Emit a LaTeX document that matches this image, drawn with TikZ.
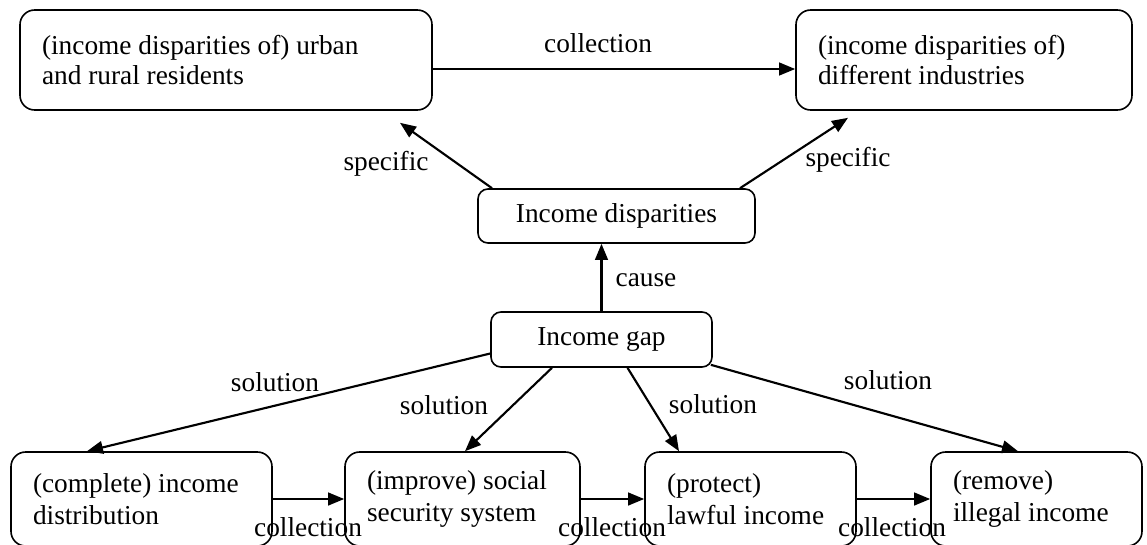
\documentclass[tikz,border=0pt]{standalone}
\usepackage{fontspec}
\setmainfont{Liberation Serif}
\usetikzlibrary{arrows.meta,calc}
\begin{document}
\begin{tikzpicture}[x=0.75pt,y=-0.75pt,
  every node/.style={font=\fontsize{20.5}{22.5}\selectfont},
  bigbox/.style={draw, line width=1.2pt, rounded corners=11pt, align=flush left, inner xsep=16.5pt, inner ysep=0pt},
  lowbox/.style={bigbox, font=\fontsize{20.5}{24}\selectfont},
  smallbox/.style={draw, line width=1.2pt, rounded corners=7.5pt, align=center, inner sep=0pt},
  conn/.style={line width=1.6pt, -{Triangle[length=12pt,width=9.5pt]}},
  lbl/.style={inner sep=0pt}
]
\useasboundingbox (0,0) rectangle (1147,544);
\clip (0,0) rectangle (1147,544);

% top boxes
\node[bigbox, text width=276pt, minimum height=75pt] (tl) at (226,60) {(income disparities of) urban\\and rural residents};
\node[bigbox, text width=219pt, minimum height=75pt] (tr) at (964,60) {(income disparities of)\\different industries};

% middle boxes
\node[smallbox, minimum width=207.75pt, minimum height=40.5pt] (ids) at (616.5,216) {Income disparities};
\node[smallbox, minimum width=165.75pt, minimum height=41.25pt] (igap) at (601.5,339.5) {Income gap};

% bottom boxes
\node[lowbox, text width=162.75pt, minimum height=70.5pt] (b1) at (141.5,499) {(complete) income\\distribution};
\node[lowbox, text width=143.25pt, minimum height=70.5pt] (b2) at (462.5,499) {(improve) social\\security system};
\node[lowbox, text width=125.25pt, minimum height=70.5pt] (b3) at (750.5,499) {(protect)\\lawful income};
\node[lowbox, text width=125.25pt, minimum height=70.5pt] (b4) at (1036.5,499) {(remove)\\illegal income};

% free ends
\coordinate (spl) at ($(tl.south)+(174,12)$);
\coordinate (spr) at ($(tr.south)+(-116,7)$);

% connectors
\draw[conn] ($(tl.east)+(0,9)$) -- ($(tr.west)+(0,9)$);
\draw[conn] ($(ids.north)+(-124.5,0)$) -- (spl);
\draw[conn] ($(ids.north)+(123.5,0)$) -- (spr);
\draw[conn] (igap.north) -- ($(ids.south)+(-15,0)$);
\draw[conn] ($(igap.west)+(0,14)$) -- ($(b1.north)+(-54.5,0)$);
\draw[conn] ($(igap.south)+(-49.5,0)$) -- ($(b2.north)+(2.5,0)$);
\draw[conn] ($(igap.south)+(26,0)$) -- ($(b3.north)+(-71.5,0)$);
\draw[conn] ($(igap.south east)+(-2,-3)$) -- ($(b4.north)+(-18.5,0)$);
\draw[conn] (b1.east) -- (b2.west);
\draw[conn] (b2.east) -- (b3.west);
\draw[conn] (b3.east) -- (b4.west);

% labels
\node[lbl] (lcoll) at (598,43) {collection};
\node[lbl] (lspl) at (386,164) {specific};
\node[lbl] (lspr) at (848,160) {specific};
\node[lbl] (lcause) at (646,280) {cause};
\node[lbl] (ls1) at (275,382) {solution};
\node[lbl] (ls2) at (444,405) {solution};
\node[lbl] (ls3) at (713,404) {solution};
\node[lbl] (ls4) at (888,380) {solution};
\node[lbl] (lc1) at (308,527) {collection};
\node[lbl] (lc2) at (612,527) {collection};
\node[lbl] (lc3) at (892,527) {collection};
\end{tikzpicture}
\end{document}
